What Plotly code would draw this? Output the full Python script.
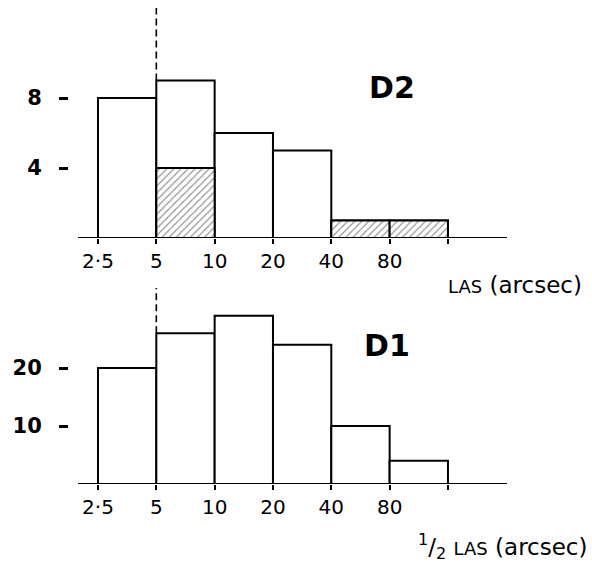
import plotly.graph_objects as go

# ---- data ----
edge_labels = ["2·5", "5", "10", "20", "40", "80", ""]
d2_total = [8, 9, 6, 5, 1, 1]
d2_hatched = [0, 4, 0, 0, 1, 1]
d1_total = [20, 26, 29, 24, 10, 4]
d2_ticks = [4, 8]
d1_ticks = [10, 20]
cut_edge = 1          # index of the "5" arcsec edge (dashed line)
d2_dash_top = 13.14
d1_dash_top = 33.8

W, H = 592, 564
centers = [i + 0.5 for i in range(len(d2_total))]
edges = list(range(len(edge_labels)))

fig = go.Figure()
bar_line = dict(color="black", width=2)

fig.add_trace(go.Bar(x=centers, y=d2_total, width=1, marker=dict(color="white", line=bar_line),
                     xaxis="x", yaxis="y"))
hx = [c for c, v in zip(centers, d2_hatched) if v > 0]
hy = [v for v in d2_hatched if v > 0]
fig.add_trace(go.Bar(x=hx, y=hy, width=1,
                     marker=dict(color="white", line=bar_line,
                                 pattern=dict(shape="/", fgcolor="#222", bgcolor="white", size=5, solidity=0.22)),
                     xaxis="x", yaxis="y"))
fig.add_trace(go.Bar(x=centers, y=d1_total, width=1, marker=dict(color="white", line=bar_line),
                     xaxis="x2", yaxis="y2"))

fig.add_trace(go.Scatter(x=[cut_edge, cut_edge], y=[d2_total[cut_edge], d2_dash_top], mode="lines",
                         line=dict(color="black", width=1.6, dash="7px,4px"), xaxis="x", yaxis="y"))
fig.add_trace(go.Scatter(x=[cut_edge, cut_edge], y=[d1_total[cut_edge], d1_dash_top], mode="lines",
                         line=dict(color="black", width=1.6, dash="7px,4px"), xaxis="x2", yaxis="y2"))

xdom = [69 / W, 507 / W]
xrange = [-0.497, 7.012]
xcommon = dict(domain=xdom, range=xrange, tickvals=edges, ticktext=edge_labels, ticks="outside",
               ticklen=5, tickwidth=2, tickcolor="black", showline=False, showgrid=False, zeroline=False,
               tickfont=dict(family="DejaVu Sans", size=20, color="black"), fixedrange=True)
ycommon = dict(ticks="outside", ticklen=9, tickwidth=2.5, tickcolor="black", showline=False,
               showgrid=False, zeroline=False, ticklabelstandoff=13,
               tickfont=dict(family="DejaVu Sans", size=21, color="black", weight="bold"), fixedrange=True)

fig.update_layout(
    width=W, height=H, margin=dict(l=0, r=0, t=0, b=0),
    paper_bgcolor="white", plot_bgcolor="white", showlegend=False, barmode="overlay",
    hovermode=False,
    xaxis=dict(anchor="y", **xcommon),
    yaxis=dict(anchor="x", domain=[(H - 238) / H, (H - 5) / H], range=[0, 233 / 17.5],
               tickvals=d2_ticks, **ycommon),
    xaxis2=dict(anchor="y2", **xcommon),
    yaxis2=dict(anchor="x2", domain=[(H - 484) / H, (H - 285) / H], range=[0, 199 / 5.8],
                tickvals=d1_ticks, **ycommon),
    shapes=[
        dict(type="line", xref="paper", yref="y", x0=78 / W, x1=507 / W, y0=0, y1=0,
             line=dict(color="black", width=2)),
        dict(type="line", xref="paper", yref="y2", x0=78 / W, x1=507 / W, y0=0, y1=0,
             line=dict(color="black", width=2)),
    ],
    annotations=[
        dict(text="<b>D2</b>", x=392 / W, y=(H - 87) / H, xref="paper", yref="paper", showarrow=False,
             xanchor="center", yanchor="middle",
             font=dict(family="DejaVu Sans", size=30, color="black")),
        dict(text="<b>D1</b>", x=387 / W, y=(H - 345) / H, xref="paper", yref="paper", showarrow=False,
             xanchor="center", yanchor="middle",
             font=dict(family="DejaVu Sans", size=30, color="black")),
        dict(text="<span style='font-size:18px'>LAS</span> (arcsec)", x=584 / W, y=(H - 285) / H,
             xref="paper", yref="paper", xanchor="right", yanchor="middle", showarrow=False,
             font=dict(family="DejaVu Sans", size=23, color="black")),
        dict(text="<sup>1</sup>/<sub>2</sub> <span style='font-size:18px'>LAS</span> (arcsec)",
             x=589 / W, y=(H - 546) / H, xref="paper", yref="paper", xanchor="right", yanchor="middle",
             showarrow=False,
             font=dict(family="DejaVu Sans", size=23, color="black")),
    ],
)

fig.write_html("out.html")
